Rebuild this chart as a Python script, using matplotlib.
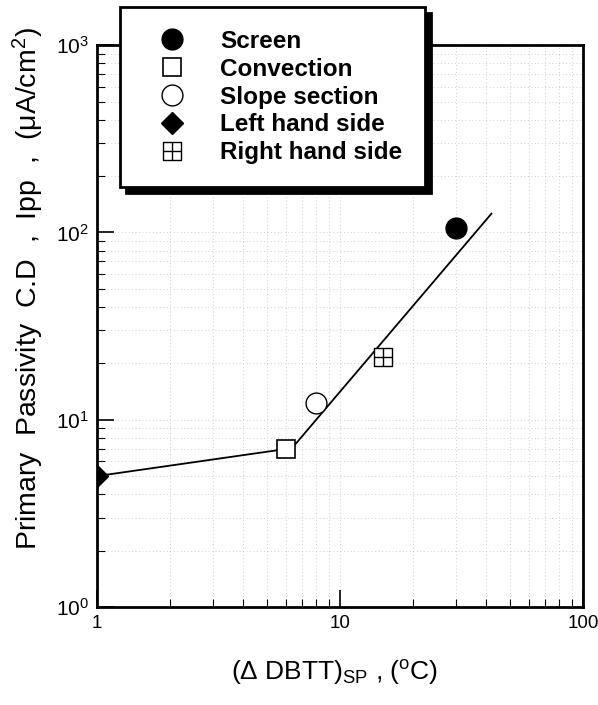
import matplotlib
matplotlib.use("Agg")
import matplotlib.pyplot as plt
from matplotlib.path import Path
from matplotlib.lines import Line2D
from matplotlib.ticker import FuncFormatter

plt.rcParams["font.family"] = ["Liberation Sans", "DejaVu Sans"]
plt.rcParams["mathtext.fontset"] = "custom"
plt.rcParams["mathtext.rm"] = "Liberation Sans"
plt.rcParams["mathtext.it"] = "Liberation Sans:italic"
plt.rcParams["mathtext.bf"] = "Liberation Sans:bold"

# data
series = ["Screen", "Convection", "Slope section", "Left hand side", "Right hand side"]
dbtt = [30, 6, 8, 1, 15]
ipp = [105, 7, 12.3, 5, 21.5]

# fitted line (two segments)
fit_x = [1, 6.35, 42]
fit_y = [5, 7.05, 126]

# square with a cross inside
crossed_sq = Path(
    [(-1, -1), (1, -1), (1, 1), (-1, 1), (-1, -1), (0, -1), (0, 1), (-1, 0), (1, 0)],
    [Path.MOVETO, Path.LINETO, Path.LINETO, Path.LINETO, Path.CLOSEPOLY,
     Path.MOVETO, Path.LINETO, Path.MOVETO, Path.LINETO],
)

styles = {
    "Screen": dict(marker="o", ms=15, mfc="black", mec="black"),
    "Convection": dict(marker="s", ms=13, mfc="white", mec="black", mew=1.2),
    "Slope section": dict(marker="o", ms=15, mfc="white", mec="black", mew=1.0),
    "Left hand side": dict(marker="D", ms=11, mfc="black", mec="black"),
    "Right hand side": dict(marker=crossed_sq, ms=13, mfc="white", mec="black", mew=1.0),
}

fig = plt.figure(figsize=(5.98, 7.05), dpi=100)
ax = fig.add_axes([0.162, 0.139, 0.813, 0.797])

ax.plot(fit_x, fit_y, color="black", lw=1.3, zorder=2)
for name, x, y in zip(series, dbtt, ipp):
    ax.plot([x], [y], ls="none", zorder=3, **styles[name])

ax.set_xscale("log")
ax.set_yscale("log")
ax.set_xlim(1, 100)
ax.set_ylim(1, 1000)
ax.xaxis.set_major_formatter(FuncFormatter(lambda v, p: f"{v:g}"))

ax.grid(True, which="both", ls=(0, (1, 4)), color="#aaaaaa", lw=0.5)
ax.tick_params(which="both", direction="in")
ax.tick_params(which="major", length=12, width=1.2, pad=6)
ax.tick_params(which="minor", length=6, width=0.8)
ax.tick_params(axis="y", labelsize=15)
ax.tick_params(axis="x", labelsize=13.5)
for s in ax.spines.values():
    s.set_linewidth(2)

fig.text(335 / 598, 1 - 672 / 705, "(Δ DBTT)$_{\\mathrm{SP}}$ , ($^{\\mathrm{o}}$C)",
         fontsize=19, ha="center", va="center")
fig.text(28 / 598, 1 - 289 / 705, "Primary  Passivity  C.D  ,  Ipp  ,  (μA/cm$^{2}$)",
         fontsize=20.5, ha="center", va="center", rotation=90)

handles = [Line2D([], [], ls="none", **styles[n]) for n in series]
leg = fig.legend(
    handles, series,
    loc="upper left", bbox_to_anchor=(120 / 598, 1 - 7 / 705),
    frameon=True, fancybox=False, edgecolor="black",
    prop=dict(weight="bold", size=17.5),
    borderpad=0.94, labelspacing=0.2, handlelength=2.39, handletextpad=0.78,
    borderaxespad=0,
    shadow=dict(color="black", ox=4.5, oy=-4.5, alpha=1),
)
leg.get_frame().set_linewidth(2)
leg.get_frame().set_facecolor("white")
leg.set_zorder(10)

fig.savefig("out.png", dpi=100)
